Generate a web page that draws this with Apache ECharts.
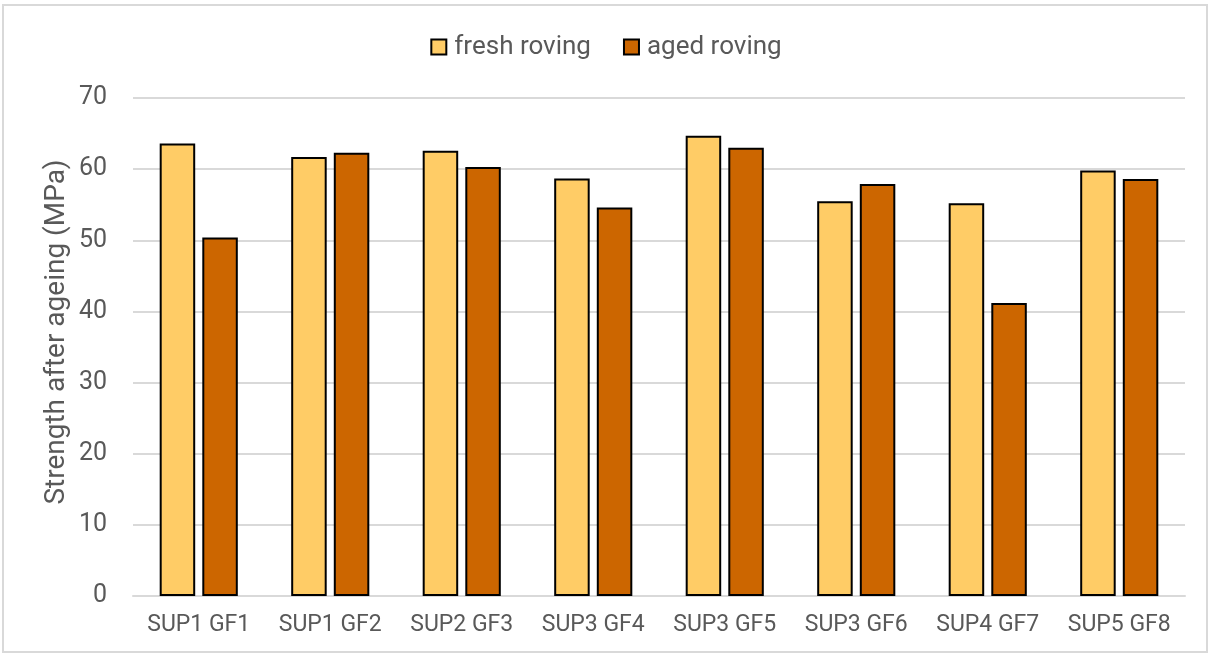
<!DOCTYPE html>
<html>
<head>
<meta charset="utf-8">
<script src="https://cdn.jsdelivr.net/npm/echarts@6/dist/echarts.min.js"></script>
<style>
  html, body { margin: 0; padding: 0; background: #fff; }
  #frame { position: absolute; left: 2px; top: 4px; width: 1206px; height: 649px; border: 2px solid #d9d9d9; box-sizing: border-box; }
  #chart { width: 1212px; height: 657px; position: absolute; left: 0; top: 0; }
</style>
</head>
<body>
<div id="frame"></div>
<div id="chart"></div>
<script>
// Tensile strength of roving samples before/after ageing
const categories = ['SUP1 GF1', 'SUP1 GF2', 'SUP2 GF3', 'SUP3 GF4', 'SUP3 GF5', 'SUP3 GF6', 'SUP4 GF7', 'SUP5 GF8'];
const freshRoving = [63.6, 61.7, 62.6, 58.7, 64.7, 55.5, 55.2, 59.8];
const agedRoving = [50.4, 62.3, 60.3, 54.6, 63.0, 57.9, 41.2, 58.6];
const yTicks = { min: 0, max: 70, interval: 10 };
const yTitle = 'Strength after ageing (MPa)';

const chart = echarts.init(document.getElementById('chart'), null, { renderer: 'canvas' });
const font = 'Roboto, "Liberation Sans", sans-serif';

chart.setOption({
  animation: false,
  backgroundColor: 'transparent',
  legend: {
    top: 29,
    left: 'center',
    icon: 'rect',
    itemWidth: 15,
    itemHeight: 15,
    itemGap: 32,
    textStyle: { fontFamily: font, fontSize: 26, color: '#595959', padding: [0, 0, 0, 3] },
    data: ['fresh roving', 'aged roving']
  },
  grid: { left: 133, right: 27, top: 98, bottom: 61, containLabel: false },
  graphic: [{
    type: 'text',
    x: 57,
    y: 332,
    rotation: Math.PI / 2,
    style: {
      text: yTitle,
      font: '28px Roboto, "Liberation Sans", sans-serif',
      fill: '#595959',
      align: 'center',
      verticalAlign: 'middle'
    }
  }],
  xAxis: {
    type: 'category',
    data: categories,
    axisTick: { show: false },
    axisLine: { lineStyle: { color: '#d9d9d9', width: 2 } },
    axisLabel: { interval: 0, fontFamily: font, fontSize: 23, color: '#595959', margin: 18 }
  },
  yAxis: {
    type: 'value',
    min: yTicks.min,
    max: yTicks.max,
    interval: yTicks.interval,
    axisLine: { show: false },
    axisTick: { show: false },
    axisLabel: { fontFamily: font, fontSize: 25, color: '#595959', margin: 26 },
    splitLine: { lineStyle: { color: '#d9d9d9', width: 2 } }
  },
  series: [
    {
      name: 'fresh roving',
      type: 'bar',
      data: freshRoving,
      barWidth: '27%',
      barGap: '20%',
      itemStyle: { color: '#FFCC66', borderColor: '#000', borderWidth: 2 }
    },
    {
      name: 'aged roving',
      type: 'bar',
      data: agedRoving,
      barWidth: '27%',
      barGap: '20%',
      itemStyle: { color: '#CC6600', borderColor: '#000', borderWidth: 2 }
    }
  ]
});
</script>
</body>
</html>
